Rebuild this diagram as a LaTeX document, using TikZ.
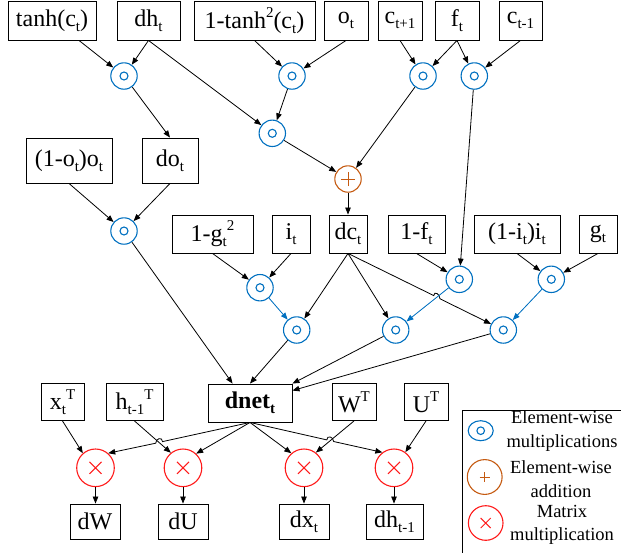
\documentclass[tikz,border=0pt]{standalone}
\usepackage{fontspec}
\setmainfont{Liberation Serif}
\usetikzlibrary{arrows.meta,calc}
\definecolor{mblue}{HTML}{0070C0}
\definecolor{morange}{HTML}{C55A11}
\definecolor{mred}{HTML}{FF1A1A}
\newcommand\tsb[1]{\raisebox{-0.2em}{\fontsize{15}{15}\selectfont #1}}
\newcommand\tsp[1]{\raisebox{0.45em}{\fontsize{15}{15}\selectfont #1}}
\begin{document}
\begin{tikzpicture}[x=1pt,y=-1pt,
  font=\fontsize{24}{26}\selectfont,
  bx/.style 2 args={draw, line width=0.9pt, inner sep=0pt, minimum width=#1pt, minimum height=#2pt},
  arr/.style={-{Triangle[length=7pt,width=5.5pt]}, line width=0.8pt},
  barr/.style={arr, draw=mblue, fill=mblue},
  mul/.style={circle, draw=mblue, line width=1.1pt, minimum size=26.4pt, inner sep=0pt,
    path picture={\draw[mblue, line width=1.1pt] (path picture bounding box.center) circle[radius=4pt];}},
  add/.style={circle, draw=morange, line width=1.1pt, minimum size=26.4pt, inner sep=0pt,
    path picture={\draw[morange, line width=1pt] ($(path picture bounding box.center)+(-7pt,0pt)$) -- ++(14pt,0pt)
      ($(path picture bounding box.center)+(0pt,-7pt)$) -- ++(0pt,14pt);}},
  mm/.style={circle, draw=mred, line width=1.1pt, minimum size=37.6pt, inner sep=0pt,
    path picture={\draw[mred, line width=1pt] ($(path picture bounding box.center)+(-6pt,-6pt)$) -- ++(12pt,12pt)
      ($(path picture bounding box.center)+(-6pt,6pt)$) -- ++(12pt,-12pt);}},
  lgtext/.style={font=\fontsize{18.5}{23.5}\selectfont, align=center, inner sep=0pt}
]
\clip (0,0) rectangle (621,552);
% top row
\node[bx={88}{39}] (tanh) at (52,20.5) {tanh(c\tsb{t})};
\node[bx={63}{39}] (dh) at (148.5,20.5) {dh\tsb{t}};
\node[bx={121}{39}] (tanhsq) at (254.5,20.5) {1-tanh\tsp{2}(c\tsb{t})};
\node[bx={44}{39}] (ot) at (346,20.5) {o\tsb{t}};
\node[bx={44}{39}] (cnext) at (400,20.5) {c\tsb{t+1}};
\node[bx={44}{39}] (ft) at (457,20.5) {f\tsb{t}};
\node[bx={43}{39}] (cprev) at (520.5,20.5) {c\tsb{t-1}};
% first circles
\node[mul] (m1) at (124,76) {};
\node[mul] (m2) at (292,76) {};
\node[mul] (m3) at (423,76) {};
\node[mul] (m4) at (474.3,76) {};
\node[mul] (m5) at (272.3,133.3) {};
\node[add] (plus) at (348,179) {};
% second row
\node[bx={86}{45}] (oo) at (69,160.5) {(1-o\tsb{t})o\tsb{t}};
\node[bx={56}{45}] (dot) at (170,160.5) {do\tsb{t}};
\node[mul] (m6) at (124,231) {};
% third row
\node[bx={81}{38}] (gg) at (212.5,234) {1-g\tsb{t}\tsp{2}};
\node[bx={38}{38}] (it) at (291,234) {i\tsb{t}};
\node[bx={38}{38}] (dc) at (348,234) {dc\tsb{t}};
\node[bx={57}{38}] (onef) at (416.5,234) {1-f\tsb{t}};
\node[bx={86}{38}] (ii) at (517,234) {(1-i\tsb{t})i\tsb{t}};
\node[bx={38}{38}] (gt) at (598,234) {g\tsb{t}};
\node[mul] (m7) at (260,287.7) {};
\node[mul] (m8) at (459.3,279.3) {};
\node[mul] (m9) at (551.3,279.3) {};
\node[mul] (m10) at (296.7,330) {};
\node[mul] (m11) at (395.7,330) {};
\node[mul] (m12) at (503.3,330) {};
% dnet row
\node[bx={84}{38}] (dnet) at (250,403) {\textbf{dnet\tsb{t}}};
\node[bx={43}{37}] (xT) at (62.5,402) {x\tsb{t}\tsp{T}};
\node[bx={57}{37}] (hT) at (134.5,402) {h\tsb{t-1}\tsp{T}};
\node[bx={44}{37}] (WT) at (354,402) {W\tsp{T}};
\node[bx={44}{37}] (UT) at (426,402) {U\tsp{T}};
\node[mm] (x1) at (95.5,467.8) {};
\node[mm] (x2) at (183,467.8) {};
\node[mm] (x3) at (304,467.8) {};
\node[mm] (x4) at (394,467.8) {};
\node[bx={50}{35}] (dW) at (95,521.5) {dW};
\node[bx={50}{35}] (dU) at (183,521.5) {dU};
\node[bx={50}{35}] (dx) at (304,521.5) {dx\tsb{t}};
\node[bx={57}{35}] (dhp) at (394.5,521.5) {dh\tsb{t-1}};
% jump points
\coordinate (ja1) at (433.8,295.6); \coordinate (jb1) at (440.0,298.8);
\coordinate (ja2) at (162.5,441.6); \coordinate (jb2) at (155.7,443.2);
\coordinate (ja3) at (326.8,439.9); \coordinate (jb3) at (333.6,441.5);
% edges top
\draw[arr] ($(tanh.south)+(27,0)$) -- (m1);
\draw[arr] (dh.south) -- (m1);
\draw[arr] (dh.south) -- (m5);
\draw[arr] (tanhsq.south) -- (m2);
\draw[arr] (ot.south) -- (m2);
\draw[arr] (cnext.south) -- (m3);
\draw[arr] (ft.south) -- (m3);
\draw[arr] (ft.south) -- (m4);
\draw[arr] (cprev.south) -- (m4);
\draw[arr] (m1) -- (dot.north);
\draw[arr] (m2) -- (m5);
\draw[arr] (m5) -- (plus);
\draw[arr] (m3) -- (plus);
\draw[arr] (plus) -- (dc);
\draw[arr] (m4) -- (m8);
\draw[arr] (oo.south) -- (m6);
\draw[arr] (dot.south) -- (m6);
\draw[arr] (m6) -- ($(dnet.north west)+(25,0)$);
% middle
\draw[arr] (gg.south) -- (m7);
\draw[arr] (it.south) -- (m7);
\draw[barr] (m7) -- (m10);
\draw[arr] (dc.south) -- (m10);
\draw[arr] (dc.south) -- (m11);
\draw[arr] (dc.south) -- (ja1) .. controls +(0,-5) and +(0,-5) .. (jb1) -- (m12);
\draw[arr] (onef.south) -- (m8);
\draw[barr] (m8) -- (m11);
\draw[arr] (ii.south) -- (m9);
\draw[arr] (gt.south) -- (m9);
\draw[barr] (m9) -- (m12);
\draw[arr] (m10) -- (dnet.north);
\draw[arr] (m11) -- (dnet.north east);
\draw[arr] (m12) -- ($(dnet.north east)+(0,7)$);
% bottom
\draw[arr] (xT.south) -- (x1.131);
\draw[arr] (dnet.south) -- (ja2) .. controls +(0,-5) and +(0,-5) .. (jb2) -- (x1.49);
\draw[arr] (hT.south) -- (x2.129);
\draw[arr] (dnet.south) -- (x2.47);
\draw[arr] (dnet.south) -- (x3.131);
\draw[arr] (WT.south) -- (x3.52);
\draw[arr] (dnet.south) -- (ja3) .. controls +(0,-5) and +(0,-5) .. (jb3) -- (x4.127);
\draw[arr] (UT.south) -- (x4.54);
\draw[arr] (x1.south) -- (x1.south |- dW.north);
\draw[arr] (x2.south) -- (x2.south |- dU.north);
\draw[arr] (x3.south) -- (x3.south |- dx.north);
\draw[arr] (x4.south) -- (x4.south |- dhp.north);
% legend
\draw[line width=0.9pt] (462,410) rectangle (640,575);
\draw[mblue, line width=1.1pt] (480.7,430.7) ellipse[x radius=12.5, y radius=10];
\draw[mblue, line width=1.1pt] (480.7,430.7) circle[radius=3.8];
\draw[morange, line width=1.1pt] (484.7,477) circle[radius=17.4];
\draw[morange, line width=1pt] (479.7,477) -- (489.7,477) (484.7,472) -- (484.7,482);
\draw[mred, line width=1.1pt] (485.7,523) circle[radius=17.3];
\draw[mred, line width=1pt] (480.7,518) -- (490.7,528) (480.7,528) -- (490.7,518);
\node[lgtext] (lg1) at (562,431) {Element-wise\\multiplications};
\node[lgtext] (lg2) at (561,479) {Element-wise\\addition};
\node[lgtext] (lg3) at (562,525) {Matrix\\multiplication};
\end{tikzpicture}
\end{document}
